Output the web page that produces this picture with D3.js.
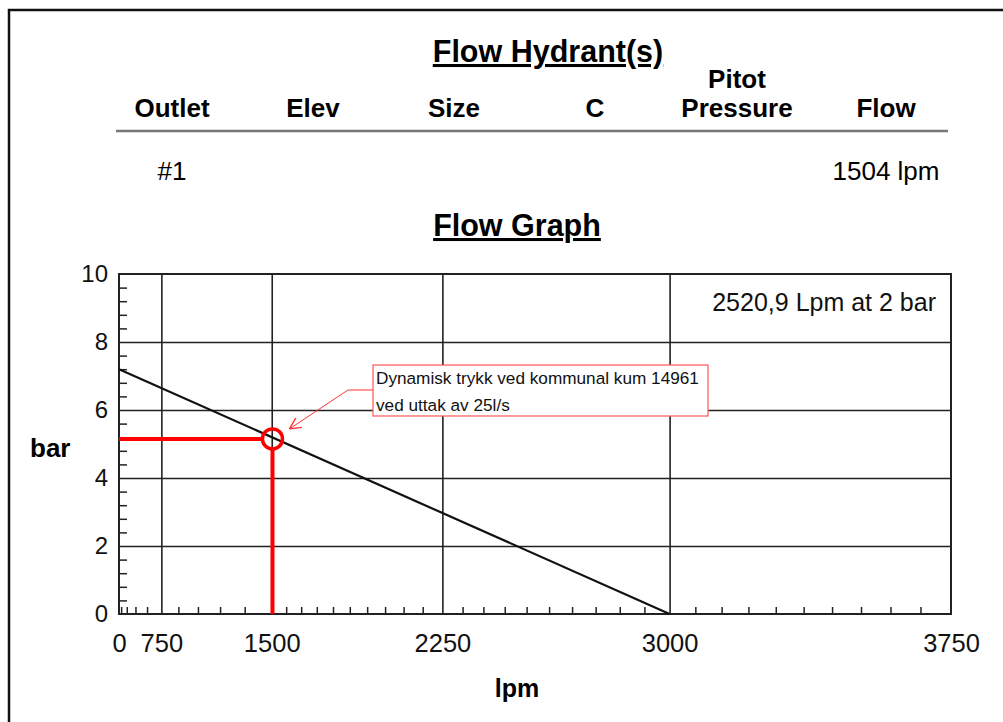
<!DOCTYPE html>
<html>
<head>
<meta charset="utf-8">
<script src="https://cdn.jsdelivr.net/npm/d3@7"></script>
<style>
  body { margin: 0; background: #fff; }
  text { font-family: "Liberation Sans", Arial, sans-serif; }
</style>
</head>
<body>
<svg width="1003" height="722"></svg>
<script>
    // table data
    columns = ["Outlet", "Elev", "Size", "C", "Pitot\nPressure", "Flow"];
    colCenters = [172, 313, 454, 595, 737, 886];
    rowValues = ["#1", "", "", "", "", "1504 lpm"];

    // flow graph data
    xMajor = [0, 750, 1500, 2250, 3000, 3750];
    yMajor = [0, 2, 4, 6, 8, 10];
    curveFlow = [0, 3000];
    curvePressure = [7.2, 0];
    testFlow = 1504;
    testPressure = 5.15;
    noteLines = ["Dynamisk trykk ved kommunal kum 14961", "ved uttak av 25l/s"];
    capacityText = "2520,9 Lpm at 2 bar";

    svg = d3.select("svg");

    //page frame
    svg.append("path")
    .attr("d", "M9,722 V10 H1003")
    .attr("fill", "none")
    .attr("stroke", "#111")
    .attr("stroke-width", 2.5);

    //titles
    function title(t, x, y) {
        svg.append("text")
        .attr("x", x).attr("y", y)
        .attr("text-anchor", "middle")
        .attr("font-size", 30.5)
        .attr("font-weight", "bold")
        .attr("text-decoration", "underline")
        .text(t);
    }
    title("Flow Hydrant(s)", 548, 62);
    title("Flow Graph", 517, 236);

    //table header
    columns.forEach(function(c, i) {
        var parts = c.split("\n");
        parts.forEach(function(p, j) {
            svg.append("text")
            .attr("x", colCenters[i])
            .attr("y", 117 - (parts.length - 1 - j) * 29)
            .attr("text-anchor", "middle")
            .attr("font-size", 26)
            .attr("font-weight", "bold")
            .text(p);
        });
    });
    svg.append("line")
    .attr("x1", 116).attr("x2", 948)
    .attr("y1", 131).attr("y2", 131)
    .attr("stroke", "#777")
    .attr("stroke-width", 2.5);
    rowValues.forEach(function(v, i) {
        svg.append("text")
        .attr("x", colCenters[i])
        .attr("y", 180)
        .attr("text-anchor", "middle")
        .attr("font-size", 26)
        .text(v);
    });

    //scales
    plotL = 119; plotR = 951; plotT = 274; plotB = 614;
    xs = d3.scalePow().exponent(1.85).domain([0, 3750]).range([plotL, plotR]);
    ys = d3.scaleLinear().domain([0, 10]).range([plotB, plotT]);

    xMinor = d3.range(150, 1500, 150).concat(d3.range(1575, 3750, 75))
        .filter(function(d) { return xMajor.indexOf(d) < 0; });
    yMinor = d3.range(0.4, 10, 0.4).map(function(d) { return Math.round(d * 10) / 10; })
        .filter(function(d) { return yMajor.indexOf(d) < 0; });

    g = svg.append("g");

    //grid lines
    g.append("g")
    .attr("transform", "translate(0," + plotB + ")")
    .call(d3.axisBottom(xs).tickValues(xMajor.slice(1, -1)).tickSize(-(plotB - plotT)).tickFormat(""))
    .call(function(a) { a.select(".domain").remove(); })
    .selectAll("line").attr("stroke", "#222").attr("stroke-width", 1.6);
    g.append("g")
    .attr("transform", "translate(" + plotL + ",0)")
    .call(d3.axisLeft(ys).tickValues(yMajor.slice(1, -1)).tickSize(-(plotR - plotL)).tickFormat(""))
    .call(function(a) { a.select(".domain").remove(); })
    .selectAll("line").attr("stroke", "#222").attr("stroke-width", 1.6);

    //minor ticks
    g.append("g")
    .attr("transform", "translate(0," + plotB + ")")
    .call(d3.axisBottom(xs).tickValues(xMinor).tickSize(-7).tickFormat(""))
    .call(function(a) { a.select(".domain").remove(); })
    .selectAll("line").attr("stroke", "#222").attr("stroke-width", 1.5);
    g.append("g")
    .attr("transform", "translate(" + plotL + ",0)")
    .call(d3.axisLeft(ys).tickValues(yMinor).tickSize(-8).tickFormat(""))
    .call(function(a) { a.select(".domain").remove(); })
    .selectAll("line").attr("stroke", "#222").attr("stroke-width", 1.5);

    //plot frame
    g.append("rect")
    .attr("x", plotL).attr("y", plotT)
    .attr("width", plotR - plotL).attr("height", plotB - plotT)
    .attr("fill", "none")
    .attr("stroke", "#222")
    .attr("stroke-width", 2);

    //tick labels
    g.append("g")
    .attr("transform", "translate(0," + plotB + ")")
    .call(d3.axisBottom(xs).tickValues(xMajor).tickSize(0).tickPadding(38).tickFormat(d3.format("d")))
    .call(function(a) { a.select(".domain").remove(); })
    .selectAll("text").attr("font-size", 25.5).attr("fill", "#111")
    .attr("font-family", "Liberation Sans, Arial, sans-serif").attr("dy", 0);
    g.append("g")
    .attr("transform", "translate(" + plotL + ",0)")
    .call(d3.axisLeft(ys).tickValues(yMajor).tickSize(0).tickPadding(11).tickFormat(d3.format("d")))
    .call(function(a) { a.select(".domain").remove(); })
    .selectAll("text").attr("font-size", 24).attr("fill", "#111")
    .attr("font-family", "Liberation Sans, Arial, sans-serif");

    //axis titles
    svg.append("text")
    .attr("x", 30).attr("y", 457)
    .attr("font-size", 26).attr("font-weight", "bold")
    .text("bar");
    svg.append("text")
    .attr("x", 517).attr("y", 697)
    .attr("text-anchor", "middle")
    .attr("font-size", 25).attr("font-weight", "bold")
    .text("lpm");

    //supply curve
    curve = curveFlow.map(function(d, i) { return [d, curvePressure[i]]; });
    g.append("path")
    .datum(curve)
    .attr("fill", "none")
    .attr("stroke", "#111")
    .attr("stroke-width", 2.2)
    .attr("d", d3.line().x(function(d) { return xs(d[0]); }).y(function(d) { return ys(d[1]); }));

    //test point
    r = 10;
    px = xs(testFlow); py = ys(testPressure);
    g.append("line")
    .attr("x1", xs(0)).attr("x2", px - r)
    .attr("y1", py).attr("y2", py)
    .attr("stroke", "#f00").attr("stroke-width", 4);
    g.append("line")
    .attr("x1", px).attr("x2", px)
    .attr("y1", py + r).attr("y2", ys(0))
    .attr("stroke", "#f00").attr("stroke-width", 4);
    g.append("circle")
    .attr("cx", px).attr("cy", py).attr("r", r)
    .attr("fill", "none")
    .attr("stroke", "#f00").attr("stroke-width", 3.5);

    //note box
    defs = svg.append("defs");
    defs.append("marker")
    .attr("id", "arr")
    .attr("viewBox", "0 0 10 10")
    .attr("refX", 10).attr("refY", 5)
    .attr("markerWidth", 12).attr("markerHeight", 12)
    .attr("markerUnits", "userSpaceOnUse")
    .attr("orient", "auto")
    .append("path")
    .attr("d", "M0,0 L10,5 L0,10")
    .attr("fill", "none")
    .attr("stroke", "#f33")
    .attr("stroke-width", 1.2);
    g.append("path")
    .attr("d", "M374,390 H348 L" + (px + 17) + "," + (py - 10))
    .attr("fill", "none")
    .attr("stroke", "#f33")
    .attr("stroke-width", 1)
    .attr("marker-end", "url(#arr)");
    g.append("rect")
    .attr("x", 373).attr("y", 365)
    .attr("width", 335).attr("height", 51)
    .attr("fill", "#fff")
    .attr("stroke", "#f55")
    .attr("stroke-width", 1.2);
    noteLines.forEach(function(t, i) {
        g.append("text")
        .attr("x", 376).attr("y", 384 + i * 27)
        .attr("font-size", 17.2)
        .attr("fill", "#111")
        .text(t);
    });

    //capacity label
    g.append("text")
    .attr("x", 936).attr("y", 311)
    .attr("text-anchor", "end")
    .attr("font-size", 25)
    .attr("fill", "#111")
    .text(capacityText);
</script>
</body>
</html>
